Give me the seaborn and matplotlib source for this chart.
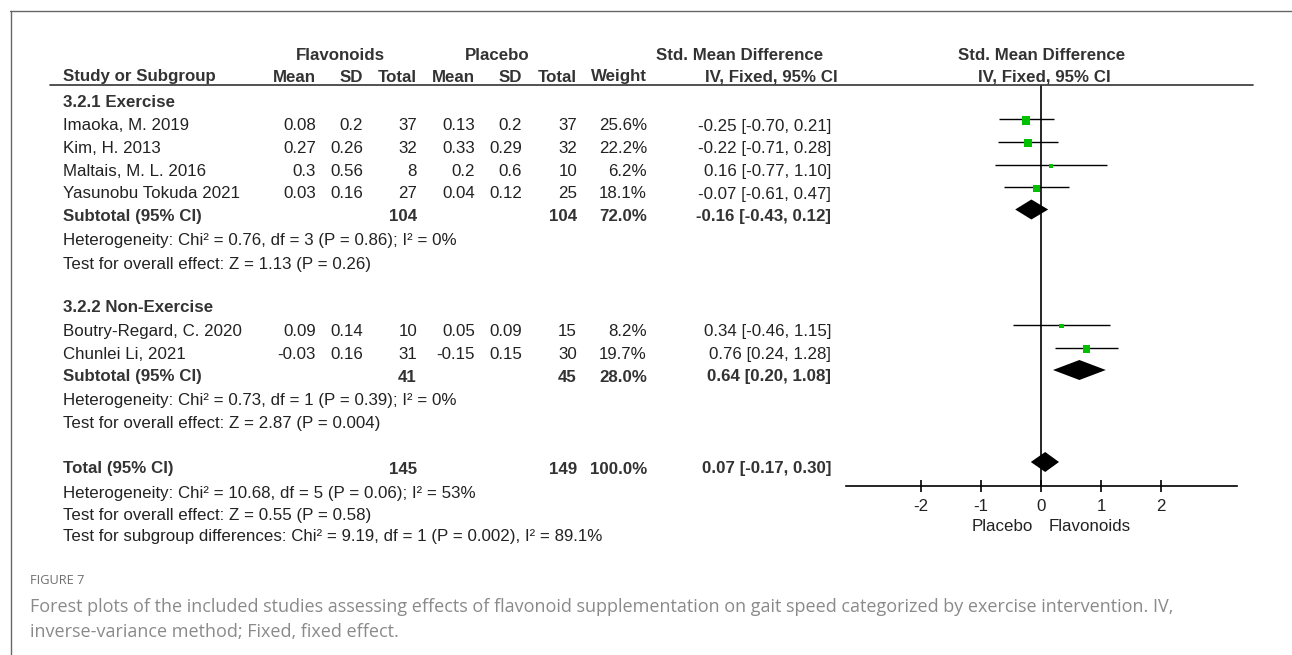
import matplotlib
matplotlib.use("Agg")
import matplotlib.pyplot as plt
from matplotlib.lines import Line2D
import seaborn as sns
import pandas as pd

# ---------------- data ----------------
studies = ["Imaoka, M. 2019", "Kim, H. 2013", "Maltais, M. L. 2016",
           "Yasunobu Tokuda 2021", "Boutry-Regard, C. 2020", "Chunlei Li, 2021"]
study_group = [0, 0, 0, 0, 1, 1]
flav_mean = ["0.08", "0.27", "0.3", "0.03", "0.09", "-0.03"]
flav_sd = ["0.2", "0.26", "0.56", "0.16", "0.14", "0.16"]
flav_n = [37, 32, 8, 27, 10, 31]
plac_mean = ["0.13", "0.33", "0.2", "0.04", "0.05", "-0.15"]
plac_sd = ["0.2", "0.29", "0.6", "0.12", "0.09", "0.15"]
plac_n = [37, 32, 10, 25, 15, 30]
weight = [25.6, 22.2, 6.2, 18.1, 8.2, 19.7]
smd = [-0.25, -0.22, 0.16, -0.07, 0.34, 0.76]
ci_lo = [-0.70, -0.71, -0.77, -0.61, -0.46, 0.24]
ci_hi = [0.21, 0.28, 1.10, 0.47, 1.15, 1.28]

subgroups = ["3.2.1 Exercise", "3.2.2 Non-Exercise"]
sub_flav_n = [104, 41]
sub_plac_n = [104, 45]
sub_weight = [72.0, 28.0]
sub_smd = [-0.16, 0.64]
sub_lo = [-0.43, 0.20]
sub_hi = [0.12, 1.08]
sub_het = ["Heterogeneity: Chi\u00b2 = 0.76, df = 3 (P = 0.86); I\u00b2 = 0%",
           "Heterogeneity: Chi\u00b2 = 0.73, df = 1 (P = 0.39); I\u00b2 = 0%"]
sub_test = ["Test for overall effect: Z = 1.13 (P = 0.26)",
            "Test for overall effect: Z = 2.87 (P = 0.004)"]

total_flav_n = 145
total_plac_n = 149
total_weight = 100.0
total_smd = 0.07
total_lo = -0.17
total_hi = 0.30
total_notes = ["Heterogeneity: Chi\u00b2 = 10.68, df = 5 (P = 0.06); I\u00b2 = 53%",
               "Test for overall effect: Z = 0.55 (P = 0.58)",
               "Test for subgroup differences: Chi\u00b2 = 9.19, df = 1 (P = 0.002), I\u00b2 = 89.1%"]

axis_ticks = [-2, -1, 0, 1, 2]
favours = ["Placebo", "Flavonoids"]
caption_title = "FIGURE 7"
caption_lines = ["Forest plots of the included studies assessing effects of flavonoid supplementation on gait speed categorized by exercise intervention. IV,",
                 "inverse-variance method; Fixed, fixed effect."]

# ---------------- style ----------------
sns.set_theme(style="white")
plt.rcParams["font.family"] = ["Liberation Sans", "DejaVu Sans"]

W, H = 1292, 655
FS = 12.2
TXT = "#222222"
HDR = "#333333"
GREEN = "#00c000"

fig = plt.figure(figsize=(W / 100, H / 100), dpi=100)


def T(x, y, s, ha="left", bold=False, color=TXT, size=FS, family=None, weight=None):
    kw = {}
    if family is not None:
        kw["family"] = family
    fw = weight if weight is not None else ("bold" if bold else "normal")
    fig.text(x / W, 1 - y / H, s, ha=ha, va="baseline", fontsize=size,
             fontweight=fw, color=color, **kw)


def hline_px(x0, x1, y, color="#333333", lw=1.1):
    fig.add_artist(Line2D([x0 / W, x1 / W], [1 - y / H, 1 - y / H],
                          color=color, lw=lw, transform=fig.transFigure))


# frame
fig.add_artist(Line2D([10.5 / W, 10.5 / W], [0, 1 - 11 / H], color="#666666", lw=1.0,
                      transform=fig.transFigure))
hline_px(10, W, 11, color="#666666", lw=1.0)

# column right edges (px)
X_NAME = 63
X_FM, X_FS, X_FN = 316, 363, 417
X_PM, X_PS, X_PN = 475, 522, 577
X_W, X_CI = 647, 831

# headers
T(340, 60, "Flavonoids", ha="center", bold=True, color=HDR)
T(497, 60, "Placebo", ha="center", bold=True, color=HDR)
T(740, 60, "Std. Mean Difference", ha="center", bold=True, color=HDR)
T(1042, 60, "Std. Mean Difference", ha="center", bold=True, color=HDR)
HB = 81.5
T(X_NAME, HB, "Study or Subgroup", bold=True, color=HDR)
for x, s in [(X_FM, "Mean"), (X_FS, "SD"), (X_FN, "Total"), (X_PM, "Mean"),
             (X_PS, "SD"), (X_PN, "Total"), (X_W, "Weight"), (838, "IV, Fixed, 95% CI")]:
    T(x, HB, s, ha="right", bold=True, color=HDR)
T(1044, HB, "IV, Fixed, 95% CI", ha="center", bold=True, color=HDR)
hline_px(50, 1253, 84.5, color="#333333", lw=1.2)

# row baselines (layout)
group_head_y = [107, 312]
study_y = [130.5, 153, 176, 198.5, 336, 359]
sub_y = [221, 381.5]
het_y = [245.5, 405]
test_y = [269, 428]
total_y = 473.5
notes_y = [498, 520, 541.5]
MARK_OFF = 11.5  # forest mark centre above text baseline

for g, name in enumerate(subgroups):
    T(X_NAME, group_head_y[g], name, bold=True, color=HDR)

for i, name in enumerate(studies):
    y = study_y[i]
    T(X_NAME, y, name)
    T(X_FM, y, flav_mean[i], ha="right")
    T(X_FS, y, flav_sd[i], ha="right")
    T(X_FN, y, str(flav_n[i]), ha="right")
    T(X_PM, y, plac_mean[i], ha="right")
    T(X_PS, y, plac_sd[i], ha="right")
    T(X_PN, y, str(plac_n[i]), ha="right")
    T(X_W, y, f"{weight[i]:.1f}%", ha="right")
    T(X_CI, y, f"{smd[i]:.2f} [{ci_lo[i]:.2f}, {ci_hi[i]:.2f}]", ha="right")

for g in range(2):
    y = sub_y[g]
    T(X_NAME, y, "Subtotal (95% CI)", bold=True, color=HDR)
    T(X_FN, y, str(sub_flav_n[g]), ha="right", bold=True, color=HDR)
    T(X_PN, y, str(sub_plac_n[g]), ha="right", bold=True, color=HDR)
    T(X_W, y, f"{sub_weight[g]:.1f}%", ha="right", bold=True, color=HDR)
    T(X_CI, y, f"{sub_smd[g]:.2f} [{sub_lo[g]:.2f}, {sub_hi[g]:.2f}]", ha="right",
      bold=True, color=HDR)
    T(X_NAME, het_y[g], sub_het[g])
    T(X_NAME, test_y[g], sub_test[g])

T(X_NAME, total_y, "Total (95% CI)", bold=True, color=HDR)
T(X_FN, total_y, str(total_flav_n), ha="right", bold=True, color=HDR)
T(X_PN, total_y, str(total_plac_n), ha="right", bold=True, color=HDR)
T(X_W, total_y, f"{total_weight:.1f}%", ha="right", bold=True, color=HDR)
T(X_CI, total_y, f"{total_smd:.2f} [{total_lo:.2f}, {total_hi:.2f}]", ha="right",
  bold=True, color=HDR)
for s, y in zip(total_notes, notes_y):
    T(X_NAME, y, s)

# ---------------- forest axes ----------------
AX_L, AX_R, AX_T, AX_B = 846, 1237, 84.5, 485.5
ax = fig.add_axes([AX_L / W, 1 - AX_B / H, (AX_R - AX_L) / W, (AX_B - AX_T) / H])
x0px = 1041
ppu = 60.0
ax.set_xlim((AX_L - x0px) / ppu, (AX_R - x0px) / ppu)
ax.set_ylim(AX_B, AX_T)
ax.set_facecolor("none")

df = pd.DataFrame({"smd": smd, "lo": ci_lo, "hi": ci_hi, "weight": weight,
                   "ypos": [y - MARK_OFF for y in study_y]})
ax.axvline(0, color="black", lw=1.2, zorder=1)
ax.hlines(df["ypos"], df["lo"], df["hi"], color="black", lw=1.0, zorder=2)
k = 1.35
sns.scatterplot(data=df, x="smd", y=df["ypos"] + 1.5, size="weight",
                sizes=(min(weight) * k, max(weight) * k),
                size_norm=(min(weight), max(weight)), marker="s", color=GREEN,
                edgecolor="none", linewidth=0, legend=False, ax=ax, zorder=3)

DH = 10
for g in range(2):
    yc = sub_y[g] - MARK_OFF
    ax.fill([sub_lo[g], sub_smd[g], sub_hi[g], sub_smd[g]],
            [yc, yc - DH, yc, yc + DH], color="black", lw=0, zorder=4)
yc = total_y - MARK_OFF
ax.fill([total_lo, total_smd, total_hi, total_smd], [yc, yc - DH, yc, yc + DH],
        color="black", lw=0, zorder=4)

for sp in ["top", "right", "left"]:
    ax.spines[sp].set_visible(False)
ax.spines["bottom"].set_color("black")
ax.spines["bottom"].set_linewidth(1.2)
ax.set_xticks(axis_ticks)
ax.set_xticklabels([str(t) for t in axis_ticks])
ax.set_yticks([])
ax.tick_params(axis="x", direction="inout", length=9, width=1.2, color="black",
               labelsize=FS, labelcolor=TXT, pad=5.5, bottom=True)
ax.set_xlabel("")
ax.set_ylabel("")

T(1002, 531, favours[0], ha="center")
T(1090, 531, favours[1], ha="center")

# caption
CAP_FAM = ["Open Sans", "DejaVu Sans"]
T(30, 584, caption_title, color="#6f6f6f", size=9.2, family=CAP_FAM)
T(30, 612, caption_lines[0], color="#8a8a8a", size=13.0, family=CAP_FAM)
T(30, 637, caption_lines[1], color="#8a8a8a", size=13.0, family=CAP_FAM)

fig.savefig("out.png", dpi=100)
